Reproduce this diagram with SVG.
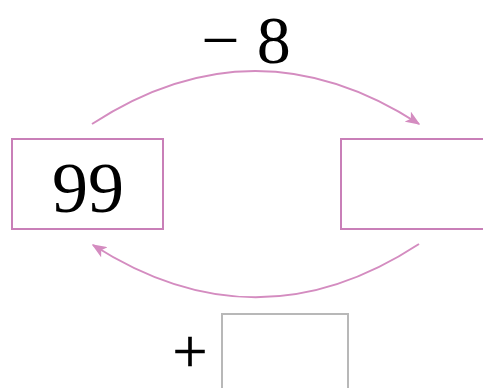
<svg xmlns="http://www.w3.org/2000/svg" width="483" height="388" viewBox="0 0 483 388">
<style>
.box{fill:#fff;stroke:#c97fb8;stroke-width:2}
.gbox{fill:#fff;stroke:#b8b8b8;stroke-width:2}
.arc{fill:none;stroke:#d48cc0;stroke-width:2}
.t{font-family:"Liberation Serif","DejaVu Serif",serif;fill:#000}
</style>
<defs>
<marker id="ah" viewBox="0 0 10 10" refX="9" refY="5" markerWidth="15" markerHeight="12" markerUnits="userSpaceOnUse" orient="auto" preserveAspectRatio="none">
<path d="M0,0 L10,5 L0,10 L2.5,5 Z" fill="#d48cc0"/>
</marker>
</defs>
<g id="connectors">
<path class="arc" d="M92,124 Q255,18 419,124" marker-end="url(#ah)"/>
<path class="arc" d="M419,244 Q257,350 93,245" marker-end="url(#ah)"/>
</g>
<g id="label-minus"><text class="t" x="246" y="63" font-size="68" text-anchor="middle">− 8</text></g>
<g id="box-left"><rect class="box" x="12" y="139" width="151" height="90"/><text class="t" x="88" y="212" font-size="72" text-anchor="middle">99</text></g>
<g id="box-right"><rect class="box" x="341" y="139" width="150" height="90"/></g>
<g id="box-bottom"><text class="t" x="190" y="372" font-size="62" text-anchor="middle" stroke="#000" stroke-width="0.6">+</text><rect class="gbox" x="222" y="314" width="126" height="80"/></g>
</svg>
